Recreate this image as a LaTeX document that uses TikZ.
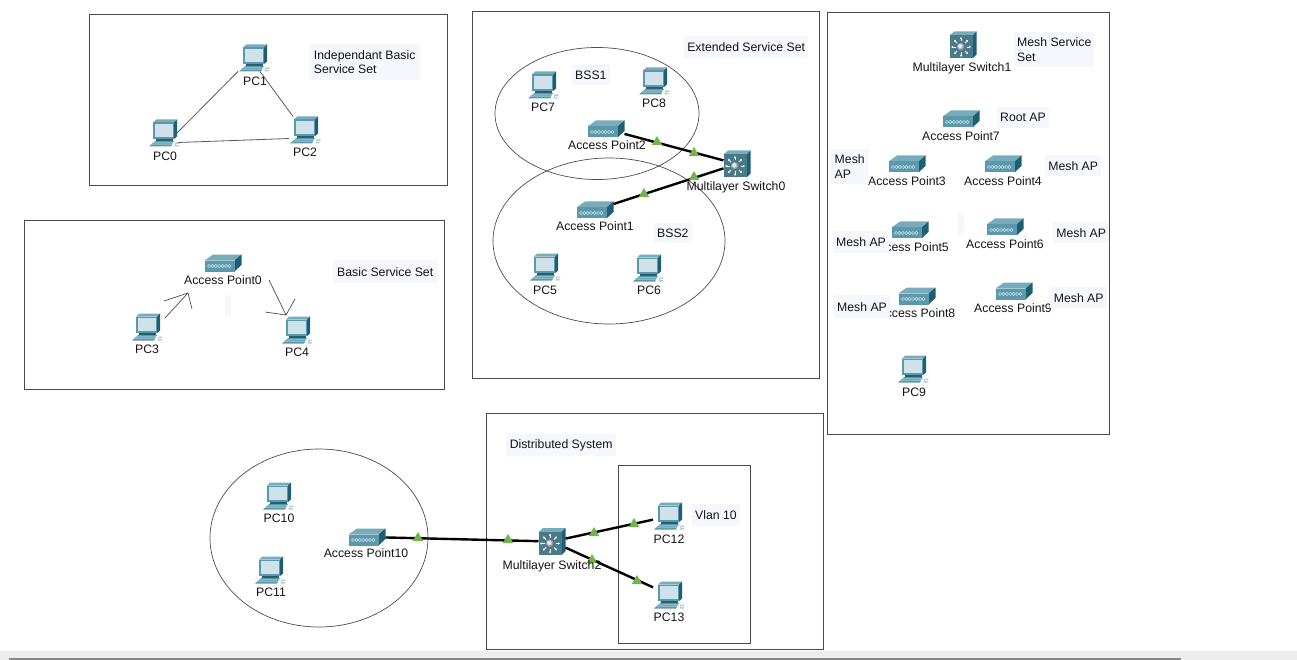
\documentclass[tikz,border=0pt]{standalone}
\usepackage{fontspec}
\setmainfont{Liberation Sans}
\usetikzlibrary{shapes.geometric,arrows.meta}
\definecolor{teal}{HTML}{5A98AC}
\definecolor{tealtop}{HTML}{78ACBC}
\definecolor{tealdark}{HTML}{1F5F73}
\definecolor{screen}{HTML}{CFE1E9}
\definecolor{pale}{HTML}{F5F7FC}
\definecolor{framec}{HTML}{4A4A4A}
\definecolor{tri}{HTML}{6DB648}
\newcommand{\pcicon}{%
  \begin{scope}[shift={(path picture bounding box.center)}]
    \fill[tealtop] (-12,-10.5) -- (-9,-13.5) -- (12,-13.5) -- (9,-10.5) -- cycle;
    \fill[tealdark] (9,-10.5) -- (12,-13.5) -- (12,3.5) -- (9,6) -- cycle;
    \fill[teal] (-12,-10.5) rectangle (9,6);
    \fill[screen] (-10.5,-9.2) rectangle (7.8,4);
    \fill[tealdark] (-9,6) rectangle (8,8);
    \fill[teal] (-10,8) -- (9,8) -- (8,9.6) -- (-11.5,9.6) -- cycle;
    \fill[tealtop] (-12,9.6) -- (8,9.6) -- (7,11.5) -- (-14,11.5) -- cycle;
    \fill[teal] (-14,11.5) -- (7,11.5) -- (6,13.5) -- (-16,13.5) -- cycle;
    \fill[tealtop!60] (10.5,9.5) -- (14.5,9.5) -- (13.5,13.5) -- (9.5,13.5) -- cycle;
    \draw[white,line width=.4] (11,11) -- (14,11);
  \end{scope}}
\newcommand{\apicon}{%
  \begin{scope}[shift={(path picture bounding box.center)}]
    \fill[tealtop] (-18.5,-2.5) -- (-10,-8.5) -- (18.5,-8.5) -- (11.5,-2.5) -- cycle;
    \fill[tealdark] (11.5,-2.5) -- (18.5,-8.5) -- (18.5,2) -- (11.5,8.5) -- cycle;
    \fill[teal] (-18.5,-2.5) rectangle (11.5,8.5);
    \foreach \q in {-14,-10.6,...,7}
      \draw[screen,line width=.5] (\q,3) circle[radius=1.6];
  \end{scope}}
\newcommand{\swicon}{%
  \begin{scope}[shift={(path picture bounding box.center)}]
    \fill[tealtop] (-13.5,-9.5) -- (-9,-13.5) -- (13.5,-13.5) -- (9.5,-9.5) -- cycle;
    \fill[tealdark] (9.5,-9.5) -- (13.5,-13.5) -- (13.5,9.5) -- (9.5,13.5) -- cycle;
    \fill[teal!80!black] (-13.5,-9.5) rectangle (9.5,13.5);
    \foreach \a in {0,45,...,315}
      \draw[white,line width=.9,-{Latex[length=2pt,width=2.4pt]}] ({-2+5.5*cos(\a)},{2+5.5*sin(\a)}) -- ({-2+10*cos(\a)},{2+10*sin(\a)});
    \shade[ball color=screen] (-2,2) circle[radius=4.2];
  \end{scope}}
\tikzset{
  x=1pt,y=-1pt,
  every node/.style={font=\fontsize{12.25}{14.5}\selectfont,text=black!92},
  pcnode/.style={rectangle,inner sep=0pt,outer sep=0pt,minimum width=34pt,minimum height=27pt,path picture={\pcicon}},
  apnode/.style={rectangle,inner sep=0pt,outer sep=0pt,minimum width=37pt,minimum height=17pt,path picture={\apicon}},
  swnode/.style={rectangle,inner sep=0pt,outer sep=0pt,minimum width=27pt,minimum height=27pt,path picture={\swicon}},
  devlabel/.style={inner sep=0pt},
  palebox/.style={fill=pale,anchor=north west,inner xsep=3pt,inner ysep=0pt,align=left},
  frame/.style={draw=framec,line width=.8pt},
  zone/.style={draw=black!70,line width=.7pt},
  wire/.style={draw=black!65,line width=.8pt},
  sketch/.style={draw=black!70,line width=.7pt},
  cable/.style={draw=black,line width=2.4pt},
  greentri/.style={regular polygon,regular polygon sides=3,fill=tri,inner sep=0pt,minimum size=12pt},
}
\begin{document}
\begin{tikzpicture}
\useasboundingbox (0,0) rectangle (1297,660);
% status strip
\fill[black!7] (0,651) rectangle (1297,660);
\fill[black!47] (9,658) rectangle (1181,660);
% frames
\draw[frame] (89,14) rectangle (447,185);
\draw[frame] (24,220) rectangle (444,389);
\draw[frame] (472,11) rectangle (819,378);
\draw[frame] (827,12) rectangle (1109,434);
\draw[frame] (486,413) rectangle (823,649);
\draw[frame] (618,465) rectangle (750,643);
% zones
\draw[zone] (597,113.5) ellipse[x radius=102,y radius=66];
\draw[zone] (609,241) ellipse[x radius=116,y radius=83];
\draw[zone] (319,538) ellipse[x radius=109,y radius=89];
% devices
\node[pcnode] (pc0) at (165,133) {};
\node[pcnode] (pc1) at (255,58) {};
\node[pcnode] (pc2) at (306,130) {};
\node[pcnode] (pc3) at (148,327) {};
\node[pcnode] (pc4) at (298,330) {};
\node[pcnode] (pc5) at (546,267) {};
\node[pcnode] (pc6) at (649,268) {};
\node[pcnode] (pc7) at (544,85) {};
\node[pcnode] (pc8) at (655,81) {};
\node[pcnode] (pc9) at (914,369) {};
\node[pcnode] (pc10) at (279,496) {};
\node[pcnode] (pc11) at (271,570) {};
\node[pcnode] (pc12) at (670,516) {};
\node[pcnode] (pc13) at (670,595) {};
\node[apnode] (ap0) at (223,263) {};
\node[apnode] (ap1) at (595,210) {};
\node[apnode] (ap2) at (606,129) {};
\node[apnode] (ap3) at (907,164) {};
\node[apnode] (ap4) at (1003,164) {};
\node[apnode] (ap5) at (910,230) {};
\node[apnode] (ap6) at (1005,227) {};
\node[apnode] (ap7) at (961,119) {};
\node[apnode] (ap8) at (917,296) {};
\node[apnode] (ap9) at (1014,291) {};
\node[apnode] (ap10) at (367,537) {};
\node[swnode] (sw0) at (737,164) {};
\node[swnode] (sw1) at (963,45) {};
\node[swnode] (sw2) at (552,541.5) {};
% connectors
\draw[wire] ([xshift=-5pt]pc0.east) -- (pc1.south west);
\draw[wire] ([xshift=5pt]pc1.south) -- ([xshift=4pt]pc2.north west);
\draw[wire] ([xshift=-4pt,yshift=4pt]pc0.south east) -- ([yshift=5pt]pc2.south west);
\draw[cable] (ap2) -- (sw0);
\draw[cable] (ap1) -- (sw0);
\draw[cable] (ap10) -- (sw2);
\draw[cable] (sw2) -- (pc12);
\draw[cable] (sw2) -- (pc13);
% link lights
\node[greentri] (t1) at (657,142) {};
\node[greentri] (t2) at (694,153) {};
\node[greentri] (t3) at (694,177) {};
\node[greentri] (t4) at (644,194) {};
\node[greentri] (t5) at (418,538) {};
\node[greentri] (t6) at (508,540) {};
\node[greentri] (t7) at (594,533) {};
\node[greentri] (t8) at (634,524) {};
\node[greentri] (t9) at (592,560) {};
\node[greentri] (t10) at (637,581) {};
% hand-drawn arrows
\coordinate (a1s) at (165,318); \coordinate (a1t) at (188,293);
\coordinate (a1l) at (164,301); \coordinate (a1r) at (192,309);
\coordinate (a2s) at (269,280); \coordinate (a2t) at (286,315);
\coordinate (a2l) at (265,312); \coordinate (a2r) at (295,299);
\draw[sketch] (a1s) -- (a1t);
\draw[sketch] (a1l) -- (a1t) -- (a1r);
\draw[sketch] (a2s) -- (a2t);
\draw[sketch] (a2l) -- (a2t) -- (a2r);
% device labels
\node[devlabel] (lpc0) at (165,156) {PC0};
\node[devlabel] (lpc1) at (255,81) {PC1};
\node[devlabel] (lpc2) at (305,152) {PC2};
\node[devlabel] (lpc3) at (147,349) {PC3};
\node[devlabel] (lpc4) at (297,352) {PC4};
\node[devlabel] (lpc5) at (545,290) {PC5};
\node[devlabel] (lpc6) at (649,290) {PC6};
\node[devlabel] (lpc7) at (543,107) {PC7};
\node[devlabel] (lpc8) at (654,103) {PC8};
\node[devlabel] (lpc9) at (914,392) {PC9};
\node[devlabel] (lpc10) at (279,518) {PC10};
\node[devlabel] (lpc11) at (271,592) {PC11};
\node[devlabel] (lpc12) at (669,539) {PC12};
\node[devlabel] (lpc13) at (669,617) {PC13};
\node[devlabel] (lap0) at (223,280) {Access Point0};
\node[devlabel] (lap1) at (595,226) {Access Point1};
\node[devlabel] (lap2) at (607,145) {Access Point2};
\node[devlabel] (lap3) at (907,181) {Access Point3};
\node[devlabel] (lap4) at (1003,181) {Access Point4};
\node[devlabel] (lap5) at (910,247) {Access Point5};
\node[devlabel] (lap6) at (1005,244) {Access Point6};
\node[devlabel] (lap7) at (961,136) {Access Point7};
\node[devlabel] (lap8) at (916.5,313) {Access Point8};
\node[devlabel] (lap9) at (1013,308) {Access Point9};
\node[devlabel] (lap10) at (366,553) {Access Point10};
\node[devlabel] (lsw0) at (736,187) {Multilayer Switch0};
\node[devlabel] (lsw1) at (962,68) {Multilayer Switch1};
\node[devlabel] (lsw2) at (552,566) {Multilayer Switch2};
% annotation notes
\node[palebox,minimum width=111pt,minimum height=36pt] (n1) at (309,44) {Independant Basic\\Service Set};
\node[palebox,minimum width=124pt,minimum height=22pt] (n2) at (684,36) {Extended Service Set};
\node[palebox,minimum width=36pt,minimum height=20pt] (n3) at (572,65) {BSS1};
\node[palebox,minimum width=37pt,minimum height=20pt] (n4) at (654,223) {BSS2};
\node[palebox,minimum width=104pt,minimum height=23pt] (n5) at (333,260) {Basic Service Set};
\node[palebox,minimum width=110pt,minimum height=22pt] (n6) at (506,434) {Distributed System};
\node[palebox,minimum width=46pt,minimum height=22pt] (n7) at (692,504) {Vlan 10};
\node[palebox,minimum width=80pt,minimum height=35pt] (n8) at (1014,32) {Mesh Service\\Set};
\node[palebox,minimum width=51pt,minimum height=21pt] (n9) at (997,107) {Root AP};
\node[palebox,minimum width=39pt,minimum height=35pt] (n10) at (830,149) {Mesh\\AP};
\node[palebox,minimum width=56pt,minimum height=21pt] (n11) at (1045,155) {Mesh AP};
\node[palebox,minimum width=54pt,minimum height=22pt] (n12) at (833,231) {Mesh AP};
\node[palebox,minimum width=56pt,minimum height=21pt] (n13) at (1053,222) {Mesh AP};
\node[palebox,minimum width=55pt,minimum height=23pt] (n14) at (834,295) {Mesh AP};
\node[palebox,minimum width=57pt,minimum height=21pt] (n15) at (1050,287) {Mesh AP};
\node[palebox,minimum width=6pt,minimum height=22pt,inner xsep=0pt] (n16) at (958,213) {};
\node[palebox,minimum width=6pt,minimum height=21pt,inner xsep=0pt] (n17) at (225,295) {};
\end{tikzpicture}
\end{document}
